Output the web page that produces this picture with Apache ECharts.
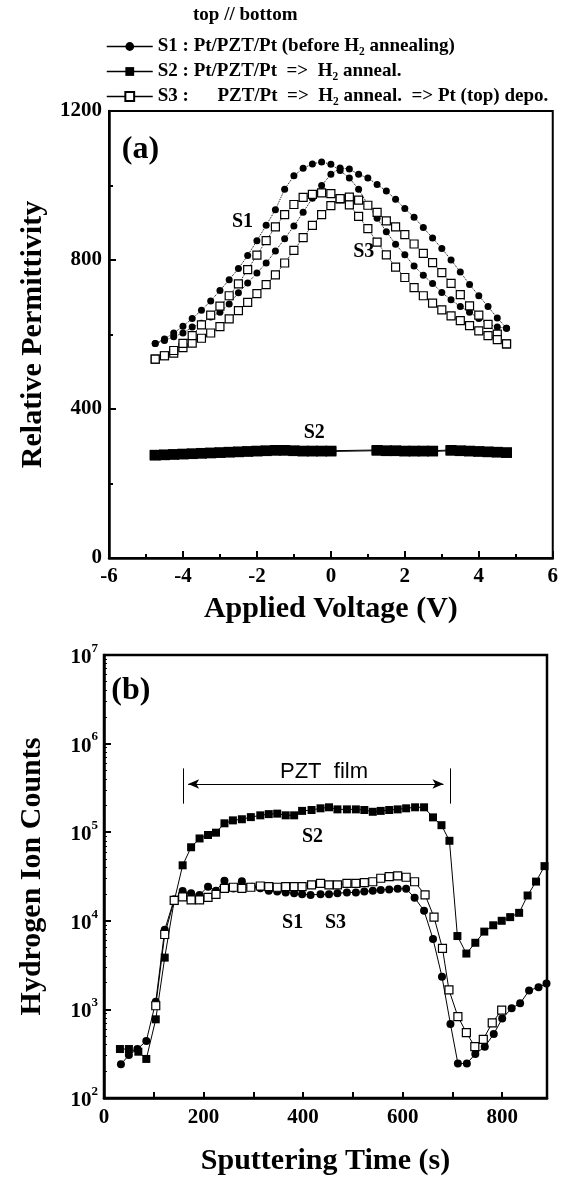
<!DOCTYPE html>
<html>
<head>
<meta charset="utf-8">
<script src="https://cdn.jsdelivr.net/npm/echarts@6/dist/echarts.min.js"></script>
<style>
  html, body { margin: 0; background: #fff; }
  #chart { width: 561px; height: 1179px; }
</style>
</head>
<body>
<div id="chart"></div>
<script>
// (a) relative permittivity vs applied voltage
// each sample is a loop: up sweep (-5 -> +5) then down sweep (+5 -> -5)
const volts = [-4.75, -4.5, -4.25, -4, -3.75, -3.5, -3.25, -3, -2.75, -2.5, -2.25, -2, -1.75, -1.5, -1.25, -1, -0.75, -0.5, -0.25, 0,
  0.25, 0.5, 0.75, 1, 1.25, 1.5, 1.75, 2, 2.25, 2.5, 2.75, 3, 3.25, 3.5, 3.75, 4, 4.25, 4.5, 4.75];

const s1Up = [576, 584, 594, 604, 620, 630, 647, 660, 682, 712, 738, 765, 792, 824, 857, 891, 928, 966, 1000, 1030,
  1047, 1044, 1030, 1020, 1003, 985, 963, 938, 915, 887, 859, 831, 800, 768, 734, 704, 675, 644, 617];
const s1Down = [576, 588, 604, 622, 643, 665, 690, 718, 747, 777, 812, 852, 893, 935, 990, 1026, 1046, 1058, 1063, 1057,
  1040, 1020, 990, 949, 912, 876, 842, 814, 784, 759, 737, 713, 693, 675, 660, 643, 628, 620, 617];

const s3Up = [534, 543, 550, 565, 577, 590, 604, 621, 642, 664, 686, 710, 734, 760, 792, 826, 860, 893, 922, 946,
  964, 969, 961, 947, 928, 905, 889, 868, 843, 818, 793, 766, 737, 707, 677, 652, 627, 601, 575];
const s3Down = [534, 543, 557, 576, 597, 626, 652, 676, 704, 736, 774, 813, 852, 889, 922, 949, 968, 976, 980, 978,
  965, 948, 917, 884, 848, 814, 781, 753, 726, 704, 684, 666, 650, 637, 624, 610, 597, 586, 575];

// S2 has a couple of stretches with no points
const s2Volts = [-4.75, -4.5, -4.25, -4, -3.75, -3.5, -3.25, -3, -2.75, -2.5, -2.25, -2, -1.75, -1.5, -1.25, -1, -0.75, -0.5, -0.25, 0,
  1.25, 1.5, 1.75, 2, 2.25, 2.5, 2.75, 3.25, 3.5, 3.75, 4, 4.25, 4.5, 4.75];
const s2Up = [277, 278, 279, 280, 281, 282, 283, 284, 285, 286, 287, 288, 289, 290, 290, 289, 288, 288, 288, 288,
  290, 289, 289, 288, 288, 288, 288, 290, 289, 288, 287, 286, 285, 284];
const s2Down = [275, 276, 277, 278, 279, 280, 281, 282, 283, 284, 285, 286, 287, 288, 288, 287, 286, 286, 286, 286,
  288, 287, 287, 286, 286, 286, 286, 288, 287, 286, 285, 284, 283, 282];

// (b) hydrogen SIMS depth profile: [sputtering time (s), counts]
const simsS1 = [[34, 240], [50, 305], [67, 357], [85, 440], [104, 1220], [122, 7900], [141, 17500], [158, 21700], [175, 20400],
  [192, 19600], [209, 24300], [225, 21800], [242, 28400], [260, 23200], [277, 28000], [297, 24300], [314, 23300], [331, 21900],
  [348, 21400], [365, 20900], [382, 20400], [398, 19900], [415, 19600], [435, 19900], [452, 19900], [469, 20400], [488, 20900],
  [506, 20900], [523, 21400], [540, 21900], [556, 22300], [573, 22600], [590, 23000], [607, 23000], [624, 18200], [643, 13000],
  [661, 6240], [679, 2340], [696, 684], [711, 245], [729, 245], [746, 314], [765, 380], [783, 527], [800, 790], [819, 1030],
  [836, 1170], [854, 1630], [873, 1780], [889, 1960]];
const simsS2 = [[32, 357], [50, 357], [69, 333], [85, 276], [104, 773], [122, 3840], [141, 16700], [158, 42300], [175, 67600],
  [192, 85000], [209, 93000], [225, 98800], [242, 126000], [259, 136000], [277, 140000], [295, 148000], [314, 155000],
  [331, 160000], [348, 162000], [365, 155000], [382, 155000], [398, 174000], [417, 178000], [435, 186000], [452, 191000],
  [469, 181000], [488, 181000], [506, 181000], [523, 178000], [540, 170000], [556, 174000], [573, 178000], [590, 181000],
  [607, 186000], [625, 191000], [643, 191000], [661, 147000], [678, 120000], [694, 80000], [710, 6730], [728, 4270],
  [746, 5650], [764, 7550], [782, 8900], [799, 10000], [816, 11000], [834, 12300], [851, 19300], [868, 27700], [885, 41400]];
const simsS3 = [[104, 1100], [122, 7000], [141, 17000], [158, 18600], [175, 17200], [192, 17200], [209, 18400], [225, 19900],
  [242, 23200], [260, 23900], [277, 23200], [295, 23900], [314, 24700], [331, 24300], [348, 23900], [365, 24300], [382, 24300],
  [398, 24300], [417, 25400], [435, 26500], [452, 25400], [469, 25400], [488, 26500], [506, 26500], [523, 26900], [540, 27600],
  [556, 30200], [573, 31600], [590, 32100], [607, 31000], [624, 27600], [645, 19600], [663, 11000], [680, 4880], [693, 1660],
  [711, 830], [728, 547], [745, 380], [762, 460], [780, 706], [799, 980]];

const names = [
  'S1 : Pt/PZT/Pt (before H\u2082 annealing)',
  'S2 : Pt/PZT/Pt  =>  H\u2082 anneal.',
  'S3 :      PZT/Pt  =>  H\u2082 anneal.  => Pt (top) depo.'
];

const FONT = "'Liberation Serif', 'Times New Roman', serif";

// up sweep then back down, as one closed path
function loop(xs, up, down) {
  const pts = xs.map((v, i) => [v, up[i]]);
  for (let i = xs.length - 1; i >= 0; i--) pts.push([xs[i], down[i]]);
  return pts;
}

const tickLabel = { color: '#000', fontFamily: FONT, fontWeight: 'bold', fontSize: 21 };
const axisName = { color: '#000', fontFamily: FONT, fontWeight: 'bold', fontSize: 30 };
const line = { onZero: false, lineStyle: { color: '#000', width: 2.5 } };
const tick = { inside: true, length: 7, lineStyle: { color: '#000', width: 2 } };
const minor = { show: true, splitNumber: 2, length: 4, lineStyle: { color: '#000', width: 2 } };

const chart = echarts.init(document.getElementById('chart'));

chart.setOption({
  animation: false,
  backgroundColor: '#fff',
  legend: {
    orient: 'vertical',
    left: 101,
    top: 32,
    itemWidth: 46,
    itemHeight: 11,
    itemGap: 6,
    lineStyle: { type: 'solid', width: 1.5 },
    textStyle: { color: '#000', fontFamily: FONT, fontWeight: 'bold', fontSize: 19 },
    data: names
  },
  grid: [
    { left: 109, top: 111, width: 446, height: 447, show: true, borderColor: '#000', borderWidth: 2 },
    { left: 104, top: 655, width: 443, height: 443, show: true, borderColor: '#000', borderWidth: 2.5 }
  ],
  xAxis: [
    {
      gridIndex: 0, type: 'value', min: -6, max: 6, interval: 2,
      name: 'Applied Voltage (V)', nameLocation: 'middle', nameGap: 36, nameTextStyle: axisName,
      axisLine: line, axisTick: tick, minorTick: minor, splitLine: { show: false },
      axisLabel: Object.assign({ margin: 8 }, tickLabel)
    },
    {
      gridIndex: 1, type: 'value', min: 0, max: 890, interval: 100,
      name: 'Sputtering Time (s)', nameLocation: 'middle', nameGap: 48, nameTextStyle: axisName,
      axisLine: line, axisTick: { inside: true, length: 6, lineStyle: { color: '#000', width: 2 } },
      splitLine: { show: false },
      axisLabel: Object.assign({ margin: 9, showMaxLabel: false, formatter: v => (v % 200 === 0 ? String(v) : '') }, tickLabel)
    }
  ],
  yAxis: [
    {
      gridIndex: 0, type: 'value', min: 0, max: 1200, interval: 400,
      name: 'Relative Permittivity', nameLocation: 'middle', nameGap: 61, nameTextStyle: axisName,
      axisLine: line, axisTick: tick, minorTick: minor, splitLine: { show: false },
      axisLabel: Object.assign({ margin: 7, formatter: v => String(v) }, tickLabel)
    },
    {
      gridIndex: 1, type: 'log', logBase: 10, min: 100, max: 1e7,
      name: 'Hydrogen Ion Counts', nameLocation: 'middle', nameGap: 57, nameTextStyle: axisName,
      axisLine: line, axisTick: tick,
      minorTick: { show: true, splitNumber: 9, length: 3, lineStyle: { color: '#000', width: 1 } },
      splitLine: { show: false },
      axisLabel: {
        margin: 6,
        formatter: v => '{b|10}{s|' + Math.round(Math.log10(v)) + '}',
        rich: {
          b: { color: '#000', fontFamily: FONT, fontWeight: 'bold', fontSize: 21, lineHeight: 26, verticalAlign: 'bottom' },
          s: { color: '#000', fontFamily: FONT, fontWeight: 'bold', fontSize: 13, lineHeight: 26, verticalAlign: 'top' }
        }
      }
    }
  ],
  series: [
    {
      name: names[0], type: 'line', xAxisIndex: 0, yAxisIndex: 0,
      data: loop(volts, s1Up, s1Down),
      symbol: 'circle', symbolSize: 7,
      itemStyle: { color: '#000' },
      lineStyle: { color: '#000', width: 1, type: 'dotted' }
    },
    {
      name: names[1], type: 'line', xAxisIndex: 0, yAxisIndex: 0,
      data: loop(s2Volts, s2Up, s2Down),
      symbol: 'rect', symbolSize: [11, 10],
      itemStyle: { color: '#000' },
      lineStyle: { color: '#000', width: 1 }
    },
    {
      name: names[2], type: 'line', xAxisIndex: 0, yAxisIndex: 0,
      data: loop(volts, s3Up, s3Down),
      symbol: 'rect', symbolSize: 8,
      itemStyle: { color: '#fff', borderColor: '#000', borderWidth: 1.2 },
      lineStyle: { color: '#000', width: 1, type: 'dotted' }
    },
    {
      name: 'S1', type: 'line', xAxisIndex: 1, yAxisIndex: 1,
      data: simsS1,
      symbol: 'circle', symbolSize: 8,
      itemStyle: { color: '#000' },
      lineStyle: { color: '#000', width: 1 }
    },
    {
      name: 'S2', type: 'line', xAxisIndex: 1, yAxisIndex: 1,
      data: simsS2,
      symbol: 'rect', symbolSize: 8,
      itemStyle: { color: '#000' },
      lineStyle: { color: '#000', width: 1 },
      markLine: {
        silent: true,
        symbol: ['arrow', 'arrow'],
        symbolSize: [7, 11],
        label: { show: false },
        lineStyle: { color: '#000', width: 1, type: 'solid' },
        data: [
          [{ coord: [169, 350000] }, { coord: [682, 350000] }],
          [{ coord: [159, 525000], symbol: 'none' }, { coord: [159, 210000], symbol: 'none' }],
          [{ coord: [696, 525000], symbol: 'none' }, { coord: [696, 210000], symbol: 'none' }]
        ]
      }
    },
    {
      name: 'S3', type: 'line', xAxisIndex: 1, yAxisIndex: 1,
      data: simsS3,
      symbol: 'rect', symbolSize: 8,
      itemStyle: { color: '#fff', borderColor: '#000', borderWidth: 1.2 },
      lineStyle: { color: '#000', width: 1 }
    }
  ]
});

// panel labels and curve tags, placed in data coordinates
const notes = [
  { text: '(a)', grid: 0, at: [-5.15, 1095], size: 32 },
  { text: 'S1', grid: 0, at: [-2.39, 902], size: 20 },
  { text: 'S3', grid: 0, at: [0.89, 822], size: 20 },
  { text: 'S2', grid: 0, at: [-0.45, 335], size: 20 },
  { text: '(b)', grid: 1, at: [54, 4.0e6], size: 32 },
  { text: 'PZT  film', grid: 1, at: [442, 480000], size: 22, weight: 'normal', family: "'Liberation Sans', Arial, sans-serif" },
  { text: 'S2', grid: 1, at: [419, 88000], size: 20 },
  { text: 'S1', grid: 1, at: [379, 9440], size: 20 },
  { text: 'S3', grid: 1, at: [465, 9440], size: 20 }
];

const graphic = notes.map(n => {
  const p = chart.convertToPixel({ gridIndex: n.grid }, n.at);
  return {
    type: 'text', x: p[0], y: p[1], silent: true,
    style: {
      text: n.text, fill: '#000', align: 'center', verticalAlign: 'middle',
      font: (n.weight || 'bold') + ' ' + n.size + 'px ' + (n.family || FONT)
    }
  };
});
graphic.push({
  type: 'text', left: 193, top: 6, silent: true,
  style: { text: 'top // bottom', fill: '#000', font: 'bold 19px ' + FONT }
});

chart.setOption({ graphic: graphic });
</script>
</body>
</html>
